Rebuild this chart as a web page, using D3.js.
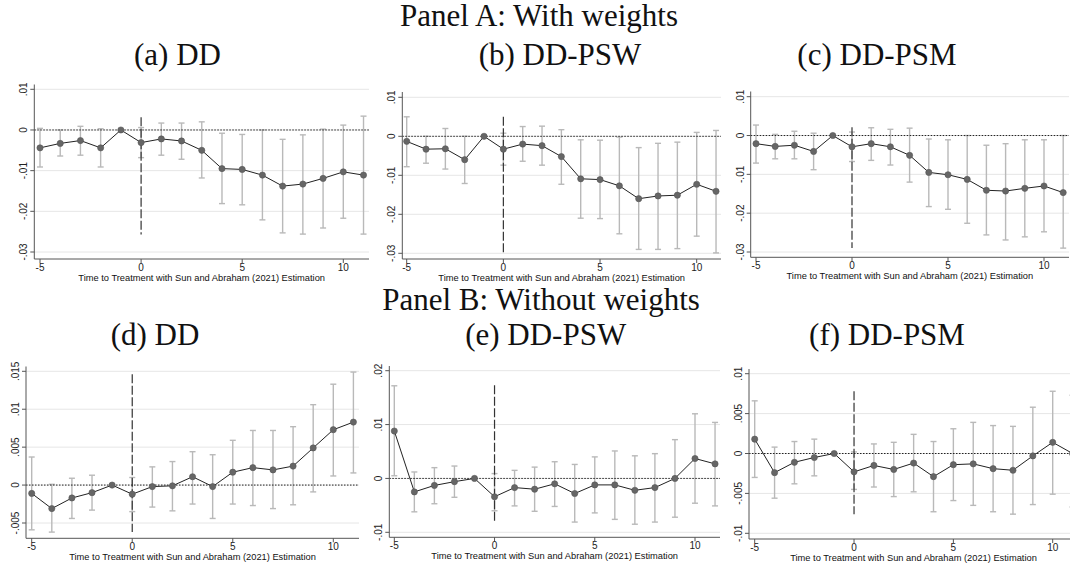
<!DOCTYPE html>
<html lang="en">
<head>
<meta charset="UTF-8">
<title>Event study panels</title>
<script src="https://d3js.org/d3.v7.min.js"></script>
<style>
    body { margin: 0; background: #fff; overflow: hidden; }
    .tick-label { font-family: "Liberation Sans", Arial, sans-serif; font-size: 10px; fill: #222; }
    .axis-title { font-family: "Liberation Sans", Arial, sans-serif; font-size: 9.3px; fill: #111; }
    .heading { font-family: "Liberation Serif", "Times New Roman", serif; font-size: 31px; fill: #111; }
</style>
</head>
<body>
<div id="chart"></div>
<script>
// event time (periods relative to treatment)
const periods = [-5, -4, -3, -2, -1, 0, 1, 2, 3, 4, 5, 6, 7, 8, 9, 10, 11];

// Panel A, with weights
const estA = [-0.0044, -0.0033, -0.0026, -0.0044, 0, -0.0031, -0.0022, -0.0027, -0.0050, -0.0095, -0.0097, -0.0111, -0.0138, -0.0133, -0.0119, -0.0103, -0.0111];
const hiA  = [0.0004, 0.0000, 0.0009, 0.0003, null, 0.0006, 0.0017, 0.0017, 0.0020, -0.0008, -0.0011, 0.0000, -0.0023, -0.0012, 0.0002, 0.0012, 0.0034];
const loA  = [-0.0091, -0.0064, -0.0062, -0.0091, null, -0.0068, -0.0062, -0.0072, -0.0118, -0.0181, -0.0184, -0.0221, -0.0253, -0.0256, -0.0241, -0.0217, -0.0256];

const estB = [-0.0013, -0.0033, -0.0032, -0.0060, 0, -0.0033, -0.0020, -0.0024, -0.0052, -0.0109, -0.0111, -0.0127, -0.0160, -0.0153, -0.0151, -0.0123, -0.0141];
const hiB  = [0.0050, 0.0000, 0.0020, 0.0000, null, 0.0008, 0.0025, 0.0026, 0.0017, -0.0009, -0.0010, -0.0002, -0.0029, -0.0018, -0.0015, 0.0010, 0.0015];
const loB  = [-0.0078, -0.0069, -0.0084, -0.0121, null, -0.0074, -0.0064, -0.0074, -0.0123, -0.0210, -0.0211, -0.0250, -0.0290, -0.0290, -0.0288, -0.0256, -0.0299];

const estC = [-0.0021, -0.0028, -0.0025, -0.0041, 0, -0.0029, -0.0021, -0.0029, -0.0051, -0.0095, -0.0101, -0.0113, -0.0141, -0.0143, -0.0136, -0.0130, -0.0147];
const hiC  = [0.0027, 0.0003, 0.0011, 0.0006, null, 0.0009, 0.0020, 0.0016, 0.0019, -0.0009, -0.0011, 0.0000, -0.0025, -0.0021, -0.0011, -0.0011, 0.0000];
const loC  = [-0.0071, -0.0060, -0.0060, -0.0088, null, -0.0067, -0.0064, -0.0076, -0.0120, -0.0183, -0.0190, -0.0226, -0.0256, -0.0269, -0.0261, -0.0248, -0.0290];

// Panel B, without weights
const estD = [-0.0011, -0.0031, -0.0017, -0.0010, 0, -0.0012, -0.0002, -0.0001, 0.0011, -0.0002, 0.0017, 0.0023, 0.0020, 0.0025, 0.0049, 0.0073, 0.0083];
const hiD  = [0.0037, 0.0001, 0.0009, 0.0013, null, 0.0010, 0.0024, 0.0031, 0.0044, 0.0040, 0.0059, 0.0072, 0.0072, 0.0077, 0.0106, 0.0133, 0.0149];
const loD  = [-0.0059, -0.0062, -0.0044, -0.0033, null, -0.0035, -0.0029, -0.0034, -0.0025, -0.0044, -0.0025, -0.0027, -0.0031, -0.0026, -0.0009, 0.0012, 0.0016];

const estE = [0.0088, -0.0025, -0.0013, -0.0006, 0, -0.0034, -0.0017, -0.0020, -0.0010, -0.0028, -0.0012, -0.0012, -0.0022, -0.0017, 0.0000, 0.0037, 0.0027];
const hiE  = [0.0172, 0.0012, 0.0020, 0.0023, null, 0.0009, 0.0015, 0.0021, 0.0031, 0.0026, 0.0040, 0.0051, 0.0042, 0.0046, 0.0072, 0.0120, 0.0104];
const loE  = [0.0005, -0.0062, -0.0047, -0.0035, null, -0.0060, -0.0051, -0.0061, -0.0052, -0.0081, -0.0064, -0.0076, -0.0085, -0.0081, -0.0072, -0.0046, -0.0051];

const estF = [0.0018, -0.0024, -0.0011, -0.0005, 0, -0.0023, -0.0015, -0.0020, -0.0012, -0.0029, -0.0014, -0.0013, -0.0019, -0.0021, -0.0003, 0.0014, 0.0000];
const hiF  = [0.0066, 0.0008, 0.0015, 0.0018, null, 0.0002, 0.0012, 0.0014, 0.0024, 0.0015, 0.0031, 0.0039, 0.0035, 0.0034, 0.0058, 0.0078, 0.0073];
const loF  = [-0.0030, -0.0056, -0.0038, -0.0028, null, -0.0045, -0.0042, -0.0054, -0.0048, -0.0073, -0.0059, -0.0065, -0.0073, -0.0076, -0.0064, -0.0051, -0.0067];

// y extent of the dashed treatment line (in y units)
const vlineTop    = [0.0031, 0.0050, 0.0021, 0.0146, 0.0173, 0.0078];
const vlineBottom = [-0.0257, -0.0298, -0.0290, -0.0062, -0.0083, -0.0076];

const xTicks = [-5, 0, 5, 10];
const yTicksTop = [0.01, 0, -0.01, -0.02, -0.03];
const yLabelsTop = [".01", "0", "-.01", "-.02", "-.03"];
const yTicksD = [0.015, 0.01, 0.005, 0, -0.005];
const yLabelsD = [".015", ".01", ".005", "0", "-.005"];
const yTicksE = [0.02, 0.01, 0, -0.01];
const yLabelsE = [".02", ".01", "0", "-.01"];
const yTicksF = [0.01, 0.005, 0, -0.005, -0.01];
const yLabelsF = [".01", ".005", "0", "-.005", "-.01"];

const subtitles = ["(a) DD", "(b) DD-PSW", "(c) DD-PSM", "(d) DD", "(e) DD-PSW", "(f) DD-PSM"];
const headings = ["Panel A: With weights", "Panel B: Without weights"];
const xTitle = "Time to Treatment with Sun and Abraham (2021) Estimation";

const width = 1070, height = 569;

// pixel layout of each panel: axis x, x range for -5..10, y range for the two end ticks, plot box
const layout = [
    { axisX: 34.3, xr: [40, 343.3], yd: [0.01, -0.03], yr: [89.3, 252], top: 84.5, bottom: 259, right: 369, tx: 177.5, ty: 65 },
    { axisX: 402.3, xr: [406.7, 696.7], yd: [0.01, -0.03], yr: [97.3, 253.3], top: 92, bottom: 259, right: 721, tx: 560, ty: 65 },
    { axisX: 750.7, xr: [756, 1044], yd: [0.01, -0.03], yr: [96.7, 252], top: 91.5, bottom: 257.3, right: 1069, tx: 877, ty: 65 },
    { axisX: 26, xr: [31.7, 333.3], yd: [0.015, -0.005], yr: [371.3, 523], top: 366.5, bottom: 538.3, right: 359, tx: 155, ty: 345 },
    { axisX: 389.3, xr: [394.3, 695], yd: [0.02, -0.01], yr: [370.7, 532.3], top: 366, bottom: 537.3, right: 720, tx: 545.7, ty: 345 },
    { axisX: 749, xr: [754.7, 1052.7], yd: [0.01, -0.01], yr: [373.7, 533.3], top: 369, bottom: 539, right: 1078, tx: 887, ty: 345 }
];

const panels = [
    { est: estA, hi: hiA, lo: loA, ticks: yTicksTop, labels: yLabelsTop },
    { est: estB, hi: hiB, lo: loB, ticks: yTicksTop, labels: yLabelsTop },
    { est: estC, hi: hiC, lo: loC, ticks: yTicksTop, labels: yLabelsTop },
    { est: estD, hi: hiD, lo: loD, ticks: yTicksD, labels: yLabelsD },
    { est: estE, hi: hiE, lo: loE, ticks: yTicksE, labels: yLabelsE },
    { est: estF, hi: hiF, lo: loF, ticks: yTicksF, labels: yLabelsF }
];

const svg = d3.select("#chart").append("svg")
    .attr("width", width)
    .attr("height", height);

svg.append("text").attr("class", "heading")
    .attr("x", 539).attr("y", 26).attr("text-anchor", "middle")
    .text(headings[0]);
svg.append("text").attr("class", "heading")
    .attr("x", 541).attr("y", 310).attr("text-anchor", "middle")
    .text(headings[1]);

panels.forEach((p, i) => {
    const L = layout[i];
    const x = d3.scaleLinear().domain([-5, 10]).range(L.xr);
    const y = d3.scaleLinear().domain(L.yd).range(L.yr);
    const g = svg.append("g");

    // subtitle
    g.append("text").attr("class", "heading")
        .attr("x", L.tx).attr("y", L.ty).attr("text-anchor", "middle")
        .text(subtitles[i]);

    // grid lines
    g.selectAll("line.grid").data(p.ticks).enter().append("line")
        .attr("class", "grid")
        .attr("x1", L.axisX).attr("x2", L.right)
        .attr("y1", d => y(d)).attr("y2", d => y(d))
        .attr("stroke", "#e6e6e6").attr("stroke-width", 1);

    const rows = periods.map((t, k) => ({ t: t, est: p.est[k], hi: p.hi[k], lo: p.lo[k] }));
    const withCi = rows.filter(d => d.hi !== null);

    // confidence intervals
    const ci = g.append("g").attr("stroke", "#b9b9b9").attr("stroke-width", 1.4);
    ci.selectAll("line.bar").data(withCi).enter().append("line")
        .attr("x1", d => x(d.t)).attr("x2", d => x(d.t))
        .attr("y1", d => y(d.hi)).attr("y2", d => y(d.lo));
    ci.selectAll("line.caphi").data(withCi).enter().append("line")
        .attr("x1", d => x(d.t) - 3).attr("x2", d => x(d.t) + 3)
        .attr("y1", d => y(d.hi)).attr("y2", d => y(d.hi));
    ci.selectAll("line.caplo").data(withCi).enter().append("line")
        .attr("x1", d => x(d.t) - 3).attr("x2", d => x(d.t) + 3)
        .attr("y1", d => y(d.lo)).attr("y2", d => y(d.lo));

    // treatment line
    g.append("line")
        .attr("x1", x(0)).attr("x2", x(0))
        .attr("y1", y(vlineTop[i])).attr("y2", y(vlineBottom[i]))
        .attr("stroke", "#333").attr("stroke-width", 1.2)
        .attr("stroke-dasharray", "9,2.5");

    // zero line
    g.append("line")
        .attr("x1", L.axisX).attr("x2", L.right)
        .attr("y1", y(0)).attr("y2", y(0))
        .attr("stroke", "#222").attr("stroke-width", 1)
        .attr("stroke-dasharray", "1.5,1.5");

    // estimates
    g.append("path").datum(rows)
        .attr("fill", "none").attr("stroke", "#222").attr("stroke-width", 1)
        .attr("d", d3.line().x(d => x(d.t)).y(d => y(d.est)));
    g.selectAll("circle").data(rows).enter().append("circle")
        .attr("cx", d => x(d.t)).attr("cy", d => y(d.est)).attr("r", 3.1)
        .attr("fill", "#666").attr("stroke", "#555").attr("stroke-width", 0.6);

    // axes
    g.append("line")
        .attr("x1", L.axisX).attr("x2", L.axisX).attr("y1", L.top).attr("y2", L.bottom)
        .attr("stroke", "#555").attr("stroke-width", 1);
    g.append("line")
        .attr("x1", L.axisX).attr("x2", L.right).attr("y1", L.bottom).attr("y2", L.bottom)
        .attr("stroke", "#555").attr("stroke-width", 1);

    g.selectAll("line.ytick").data(p.ticks).enter().append("line")
        .attr("x1", L.axisX - 4).attr("x2", L.axisX)
        .attr("y1", d => y(d)).attr("y2", d => y(d))
        .attr("stroke", "#555");
    g.selectAll("text.ylab").data(p.ticks).enter().append("text")
        .attr("class", "tick-label")
        .attr("text-anchor", "middle")
        .attr("transform", d => `translate(${L.axisX - 7},${y(d)}) rotate(-90)`)
        .text((d, k) => p.labels[k]);

    g.selectAll("line.xtick").data(xTicks).enter().append("line")
        .attr("x1", d => x(d)).attr("x2", d => x(d))
        .attr("y1", L.bottom).attr("y2", L.bottom + 4)
        .attr("stroke", "#555");
    g.selectAll("text.xlab").data(xTicks).enter().append("text")
        .attr("class", "tick-label")
        .attr("text-anchor", "middle")
        .attr("x", d => x(d)).attr("y", L.bottom + 12)
        .text(d => d);

    g.append("text").attr("class", "axis-title")
        .attr("text-anchor", "middle")
        .attr("x", (L.axisX + Math.min(L.right, 1070)) / 2 + (i === 5 ? 4 : 0))
        .attr("y", L.bottom + 22)
        .text(xTitle);
});
</script>
</body>
</html>
